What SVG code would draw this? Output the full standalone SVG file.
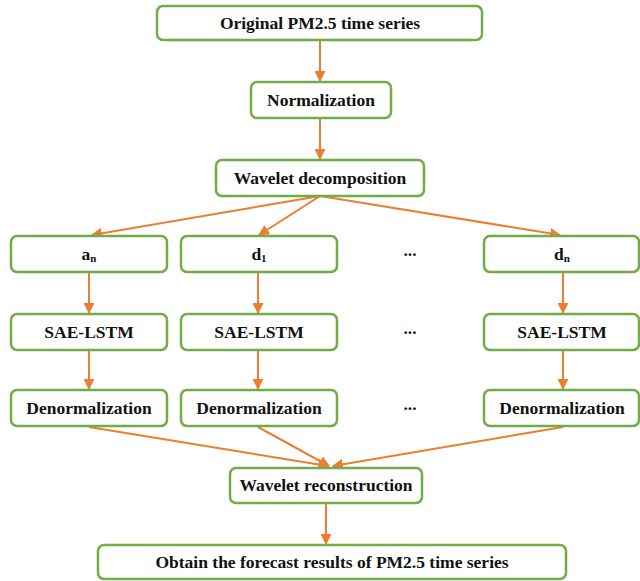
<svg xmlns="http://www.w3.org/2000/svg" width="640" height="581" viewBox="0 0 640 581">
<defs>
<marker id="ah" viewBox="0 0 10 10" refX="9" refY="5" markerWidth="5.5" markerHeight="5.5" orient="auto" markerUnits="strokeWidth">
<path d="M0,0 L10,5 L0,10 z" fill="#ed7d31"/>
</marker>
<style>
.box{fill:#ffffff;stroke:#70ad47;stroke-width:2.5}
.t{font-family:"Liberation Serif","Times New Roman",serif;font-weight:bold;font-size:17.5px;fill:#111111;text-anchor:middle}
.sub{font-size:11px}
.c{stroke:#ed7d31;stroke-width:2;fill:none;marker-end:url(#ah)}
</style>
</defs>
<rect width="640" height="581" fill="#ffffff"/>
<g id="connectors">
<line class="c" x1="320" y1="41" x2="320" y2="81"/>
<line class="c" x1="320" y1="119" x2="320" y2="159"/>
<line class="c" x1="320" y1="196" x2="92" y2="235"/>
<line class="c" x1="320" y1="196" x2="259" y2="235"/>
<line class="c" x1="320" y1="196" x2="560" y2="235"/>
<line class="c" x1="89" y1="273" x2="89" y2="313"/>
<line class="c" x1="258" y1="273" x2="258" y2="313"/>
<line class="c" x1="563" y1="273" x2="563" y2="313"/>
<line class="c" x1="89" y1="350" x2="89" y2="389"/>
<line class="c" x1="258" y1="350" x2="258" y2="389"/>
<line class="c" x1="563" y1="350" x2="563" y2="389"/>
<line class="c" x1="89" y1="427" x2="328" y2="466"/>
<line class="c" x1="258" y1="427" x2="329" y2="466"/>
<line class="c" x1="563" y1="427" x2="333" y2="466"/>
<line class="c" x1="326" y1="504" x2="326" y2="544"/>
</g>
<g id="n1"><rect class="box" x="157" y="6" width="325" height="34" rx="6"/><text class="t" x="320" y="29">Original PM2.5 time series</text></g>
<g id="n2"><rect class="box" x="251" y="82" width="140" height="36" rx="6"/><text class="t" x="321" y="106">Normalization</text></g>
<g id="n3"><rect class="box" x="216" y="160" width="208" height="36" rx="6"/><text class="t" x="320" y="184">Wavelet decomposition</text></g>
<g id="n4"><rect class="box" x="11" y="236" width="156" height="36" rx="6"/><text class="t" x="89" y="260">a<tspan class="sub" dy="2">n</tspan></text></g>
<g id="n5"><rect class="box" x="181" y="236" width="156" height="36" rx="6"/><text class="t" x="259" y="260">d<tspan class="sub" dy="2">1</tspan></text></g>
<g id="n6"><rect class="box" x="484" y="236" width="155" height="36" rx="6"/><text class="t" x="562" y="260">d<tspan class="sub" dy="2">n</tspan></text></g>
<g id="n7"><rect class="box" x="11" y="314" width="156" height="36" rx="6"/><text class="t" x="89" y="338">SAE-LSTM</text></g>
<g id="n8"><rect class="box" x="181" y="314" width="156" height="36" rx="6"/><text class="t" x="259" y="338">SAE-LSTM</text></g>
<g id="n9"><rect class="box" x="484" y="314" width="155" height="36" rx="6"/><text class="t" x="562" y="338">SAE-LSTM</text></g>
<g id="n10"><rect class="box" x="11" y="390" width="156" height="36" rx="6"/><text class="t" x="89" y="414">Denormalization</text></g>
<g id="n11"><rect class="box" x="181" y="390" width="156" height="36" rx="6"/><text class="t" x="259" y="414">Denormalization</text></g>
<g id="n12"><rect class="box" x="484" y="390" width="155" height="36" rx="6"/><text class="t" x="562" y="414">Denormalization</text></g>
<g id="n13"><rect class="box" x="230" y="468" width="192" height="35" rx="6"/><text class="t" x="326" y="491">Wavelet reconstruction</text></g>
<g id="n14"><rect class="box" x="98" y="545" width="468" height="34" rx="6"/><text class="t" x="332" y="568">Obtain the forecast results of PM2.5 time series</text></g>
<g id="dots">
<text class="t" x="410" y="256">...</text>
<text class="t" x="410" y="334">...</text>
<text class="t" x="410" y="410">...</text>
</g>
</svg>
